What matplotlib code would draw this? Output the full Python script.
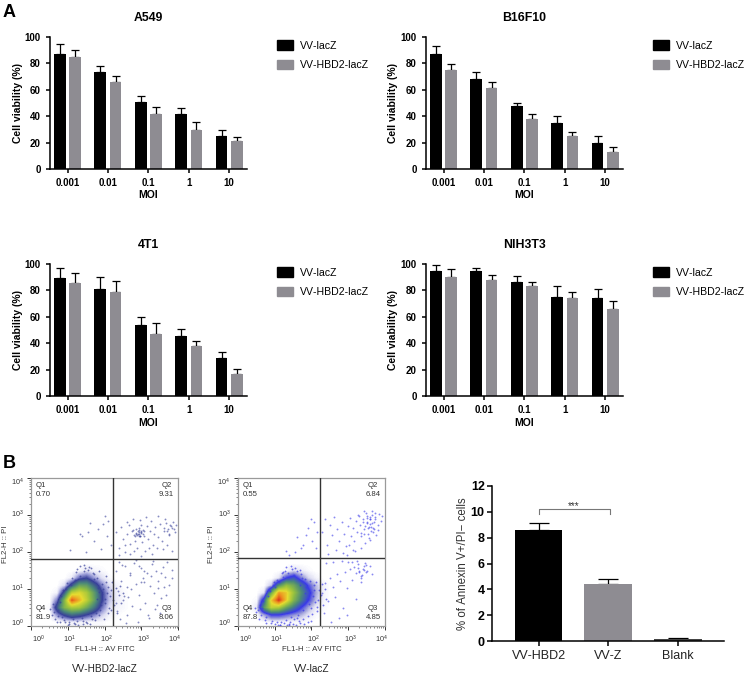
#!/usr/bin/env python3
"""Cell viability bars, annexin V flow plots and apoptosis summary"""

import matplotlib
matplotlib.use('Agg')
import matplotlib.pyplot as plt
from matplotlib.colors import LinearSegmentedColormap
from matplotlib.patches import Patch
import numpy as np

plt.rcParams['font.family'] = ['Liberation Sans', 'DejaVu Sans']
plt.rcParams['text.kerning_factor'] = 6

W, H = 747, 675

moi = ['0.001', '0.01', '0.1', '1', '10']
series_names = ['VV-lacZ', 'VV-HBD2-lacZ']

a549_lacz = [87.4, 73.5, 50.9, 41.3, 24.7]
a549_lacz_top = [94.7, 78.0, 55.4, 46.3, 29.2]
a549_hbd2 = [84.9, 66.0, 41.3, 29.2, 20.9]
a549_hbd2_top = [90.4, 70.5, 46.9, 35.8, 23.9]

b16_lacz = [87.2, 68.5, 47.9, 34.8, 19.9]
b16_lacz_top = [93.0, 73.5, 50.1, 39.8, 24.9]
b16_hbd2 = [74.8, 61.2, 38.0, 24.9, 12.8]
b16_hbd2_top = [79.8, 66.2, 41.3, 28.0, 16.4]

t1_lacz = [89.6, 80.8, 54.0, 45.2, 28.8]
t1_lacz_top = [96.7, 90.4, 59.8, 50.5, 33.6]
t1_hbd2 = [85.6, 79.0, 46.7, 37.9, 16.9]
t1_hbd2_top = [92.9, 87.1, 55.0, 41.9, 20.5]

nih_lacz = [94.7, 94.7, 86.6, 75.0, 74.5]
nih_lacz_top = [99.0, 97.0, 90.7, 83.3, 80.8]
nih_hbd2 = [90.4, 87.9, 83.3, 74.0, 65.9]
nih_hbd2_top = [96.2, 91.9, 86.1, 78.6, 72.2]

annexin_groups = ['VV-HBD2', 'VV-Z', 'Blank']
annexin_values = [8.6, 4.4, 0.15]
annexin_tops = [9.1, 4.8, 0.25]

# flow plots: density read per 0.2 decade cell, bottom row first, x 0-2.8, y 0-2.0
density_hbd2 = [
    [0, 0, 0, 0, .1, .2, .2, .1, .1, .1, 0, 0, 0, 0],
    [0, 0, 0, 1.2, 2.2, 3, 2.6, 2, 1.4, .7, .2, .1, 0, 0],
    [0, 0, .1, 2.6, 5, 6, 5.8, 4.6, 3.2, 1.6, .5, .2, .1, 0],
    [0, 0, 0, 1.4, 5, 9.5, 8, 6.4, 4.4, 2.2, .8, .3, .1, 0],
    [0, 0, 0, .2, 2.6, 6.4, 7, 6, 4.2, 2.2, .8, .3, .1, 0],
    [0, 0, 0, 0, .5, 2.6, 4.4, 4.2, 2.8, 1.4, .5, .2, 0, 0],
    [0, 0, 0, 0, 0, .3, 1.6, 2, 1.1, .5, .1, 0, 0, 0],
    [0, 0, 0, 0, 0, 0, .1, .4, .2, .1, 0, 0, 0, 0],
    [0, 0, 0, 0, 0, 0, 0, 0, 0, 0, 0, 0, 0, 0],
    [0, 0, 0, 0, 0, 0, 0, 0, 0, 0, 0, 0, 0, 0],
]
density_lacz = [
    [0, 0, 0, 0, .1, .1, .1, .1, .1, 0, 0, 0, 0, 0],
    [0, 0, 0, 1, 2, 2, 1.6, 1.2, .9, .4, .1, 0, 0, 0],
    [0, 0, .4, 4, 6.4, 6, 4.4, 3.2, 2, 1, .3, .1, 0, 0],
    [0, 0, .1, 2.6, 7.6, 10, 7.6, 5, 3.4, 2, .8, .2, 0, 0],
    [0, 0, 0, .4, 4.6, 8.4, 7.6, 5.6, 3.8, 2.4, 1, .2, 0, 0],
    [0, 0, 0, 0, .8, 3.8, 5.4, 4.6, 3.2, 1.8, .8, .2, 0, 0],
    [0, 0, 0, 0, 0, .4, 2, 2.6, 1.4, .6, .2, 0, 0, 0],
    [0, 0, 0, 0, 0, 0, .1, .5, .3, .1, 0, 0, 0, 0],
    [0, 0, 0, 0, 0, 0, 0, 0, 0, 0, 0, 0, 0, 0],
    [0, 0, 0, 0, 0, 0, 0, 0, 0, 0, 0, 0, 0, 0],
]

# events outside the dense population, read as log10 positions
hbd2_x = [1.05, 1.32, 1.38, 1.55, 1.7, 1.82, 1.96, 2.06, 2.1, 2.18, 1.48, 1.9, 1.6, 2.02,
          2.32, 2.38, 2.45, 2.5, 2.56, 2.6, 2.66, 2.7, 2.74, 2.78, 2.82, 2.85, 2.88, 2.9,
          2.92, 2.94, 2.96, 2.98, 3.0, 3.02, 3.05, 3.08, 3.1, 3.14, 3.18, 3.22, 3.26, 3.3,
          3.34, 3.38, 3.42, 3.46, 3.5, 3.55, 3.6, 3.65, 3.7, 3.74, 3.78, 3.82, 3.86, 3.9,
          2.4, 2.55, 2.7, 2.82, 2.95, 3.12, 3.28, 3.44, 3.58, 3.72, 2.62, 2.8, 3.0, 3.2,
          2.3, 2.36, 2.44, 2.5, 2.56, 2.62, 2.68, 2.74, 2.8, 2.86, 2.92, 2.98, 3.04, 3.1,
          3.16, 3.22, 3.28, 3.34, 3.4, 3.46, 3.52, 3.58, 3.64, 3.7, 3.76, 3.82, 2.34, 2.42,
          2.52, 2.6, 2.72, 2.84, 2.96, 3.06, 3.18, 3.3, 3.42, 3.54, 3.66, 2.9, 3.2, 3.5,
          2.48, 2.7, 3.0, 3.36, 3.62, 3.84, 2.38, 2.64, 2.94, 3.26, 2.3, 2.58, 3.08, 3.44,
          2.86, 2.9, 2.94, 2.98, 2.88, 2.92, 2.96, 3.0, 2.84, 2.93, 3.04, 2.76, 2.8, 3.08,
          3.6, 3.7, 3.8, 3.88, 3.94, 3.76, 3.66, 3.84]
hbd2_y = [2.05, 2.5, 2.42, 2.55, 2.3, 2.62, 2.75, 2.44, 2.85, 2.2, 2.0, 2.08, 2.78, 2.96,
          2.55, 2.12, 2.68, 2.35, 2.0, 2.48, 2.72, 2.22, 2.58, 2.9, 2.42, 2.62, 2.1, 2.5,
          2.66, 2.55, 2.42, 2.52, 2.74, 2.28, 2.6, 2.44, 2.04, 2.7, 2.36, 2.56, 2.84, 2.2,
          2.48, 2.68, 2.1, 2.4, 2.76, 2.3, 2.58, 2.9, 2.18, 2.46, 2.72, 2.02, 2.8, 2.55,
          1.92, 2.18, 1.95, 2.3, 2.86, 2.95, 1.94, 2.98, 2.08, 2.62, 2.8, 2.02, 1.9, 2.12,
          1.5, 0.95, 1.22, 0.7, 1.62, 1.05, 1.38, 0.55, 1.7, 1.14, 0.85, 1.56, 1.3, 0.62,
          1.44, 1.08, 1.68, 0.9, 1.5, 1.22, 0.75, 1.6, 1.32, 1.72, 1.1, 1.52, 0.4, 0.18,
          0.82, 0.3, 1.0, 1.78, 0.45, 1.18, 0.3, 1.76, 0.58, 1.42, 0.85, 0.12, 0.22, 0.36,
          1.66, 1.42, 1.18, 0.46, 1.05, 1.3, 1.74, 0.78, 1.62, 1.35, 0.62, 0.08, 1.48, 1.02,
          2.5, 2.56, 2.48, 2.58, 2.46, 2.6, 2.44, 2.54, 2.52, 2.42, 2.5, 2.6, 2.46, 2.56,
          2.66, 2.58, 2.7, 2.62, 2.74, 2.5, 2.78, 2.66]

lacz_x = [1.4, 1.62, 1.72, 1.85, 1.92, 2.02, 2.08, 2.16, 1.55, 1.98, 1.3, 1.78, 2.12,
          2.3, 2.36, 2.42, 2.5, 2.56, 2.62, 2.7, 2.76, 2.82, 2.88, 2.94, 3.0, 3.04, 3.08,
          3.12, 3.16, 3.2, 3.24, 3.28, 3.32, 3.36, 3.4, 3.44, 3.48, 3.5, 3.54, 3.58, 3.6,
          3.62, 3.66, 3.68, 3.7, 3.74, 3.76, 3.8, 3.84, 3.88, 3.92, 2.46, 2.66, 2.86, 3.02,
          3.18, 3.34, 3.46, 3.56, 3.64, 3.72, 3.8, 3.3, 3.42, 3.52, 3.6, 3.68, 3.14, 2.98,
          2.3, 2.38, 2.44, 2.5, 2.58, 2.64, 2.7, 2.78, 2.86, 2.92, 2.98, 3.04, 3.1, 3.16,
          3.22, 3.28, 3.34, 3.4, 3.46, 3.52, 3.58, 3.64, 2.34, 2.54, 2.74, 2.96, 3.2, 3.36,
          3.48, 3.3, 3.42, 3.1, 3.24, 2.4, 2.6, 2.82, 3.0,
          3.46, 3.5, 3.54, 3.58, 3.62, 3.44, 3.52, 3.56, 3.66, 3.7, 3.74, 3.6, 3.4, 3.34,
          3.26, 3.3, 3.38, 3.44, 3.48, 3.36]
lacz_y = [1.92, 2.4, 2.1, 2.46, 2.66, 2.3, 2.8, 2.55, 2.0, 2.9, 2.02, 2.18, 2.12,
          2.55, 2.9, 2.2, 2.72, 2.45, 2.95, 2.62, 2.3, 2.8, 2.5, 2.15, 2.7, 2.92, 2.42,
          2.65, 2.3, 2.85, 2.55, 3.0, 2.72, 2.42, 2.9, 2.62, 3.05, 2.78, 2.5, 2.88, 2.32,
          2.68, 3.0, 2.55, 2.82, 2.95, 2.45, 2.72, 3.02, 2.85, 2.98, 1.95, 2.05, 1.98, 2.2,
          2.02, 2.12, 2.25, 2.38, 3.1, 3.06, 2.6, 2.98, 3.1, 2.92, 2.75, 2.65, 2.05, 1.92,
          0.9, 1.15, 0.68, 1.3, 1.05, 0.78, 1.4, 1.22, 0.5, 1.45, 1.02, 1.55, 1.25, 1.6,
          1.42, 1.68, 1.35, 1.55, 1.7, 1.5, 1.62, 1.4, 0.35, 0.12, 0.22, 0.3, 0.72, 1.2,
          1.45, 1.5, 1.62, 1.72, 1.75, 1.7, 1.74, 1.76, 1.72,
          2.7, 2.82, 2.64, 2.9, 2.58, 2.5, 2.96, 2.68, 2.78, 2.62, 2.88, 2.94, 2.8, 2.52,
          1.58, 1.46, 1.38, 1.52, 1.64, 1.3]

# scattered events round the main population
hbd2_fringe_x = [0.62, 0.68, 0.72, 0.78, 0.84, 0.66, 0.74, 0.82, 0.9, 0.96, 1.02, 1.08, 1.14, 1.2,
                 1.26, 1.32, 1.38, 1.44, 1.5, 1.56, 1.62, 1.68, 1.74, 1.8, 1.86, 1.92, 1.98, 2.04,
                 2.1, 2.16, 2.0, 1.94, 1.88, 1.82, 1.76, 1.7, 2.22, 2.12, 2.06, 2.18, 1.66, 1.58,
                 1.52, 1.46, 1.4, 1.34, 1.28, 1.22, 1.16, 1.1, 1.04, 0.98, 0.92, 0.86, 0.8, 1.78,
                 1.9, 2.02, 2.14, 2.26, 2.3, 2.38, 2.44, 2.34, 2.5, 2.42, 1.72, 1.84, 1.96, 2.08,
                 0.52, 0.56, 0.6, 0.7, 1.0, 1.2, 1.4, 1.6, 1.24, 1.44, 1.64, 1.84, 2.04, 2.2]
hbd2_fringe_y = [0.38, 0.52, 0.28, 0.66, 0.24, 0.18, 0.44, 0.82, 0.16, 1.0, 0.12, 1.12, 0.2, 1.24,
                 0.14, 1.36, 0.22, 1.48, 0.1, 1.52, 0.26, 1.44, 0.16, 1.3, 0.3, 1.14, 0.2, 1.2,
                 0.34, 0.98, 0.62, 0.86, 0.42, 1.02, 0.36, 1.26, 0.7, 0.5, 0.88, 0.44, 0.18, 1.6,
                 0.08, 1.56, 0.06, 1.62, 0.04, 1.46, 0.08, 1.3, 0.06, 1.16, 0.1, 0.98, 0.1, 0.72,
                 0.56, 0.74, 0.82, 0.58, 1.02, 0.84, 0.62, 0.36, 0.9, 1.08, 1.4, 0.92, 1.0, 1.06,
                 0.46, 0.3, 0.6, 0.12, 0.03, 0.05, 0.14, 0.05, 1.54, 1.66, 1.58, 1.48, 1.36, 1.18]
lacz_fringe_x = [0.56, 0.6, 0.64, 0.7, 0.76, 0.82, 0.58, 0.66, 0.74, 0.88, 0.94, 1.0, 1.06, 1.12,
                 1.18, 1.24, 1.3, 1.36, 1.42, 1.48, 1.54, 1.6, 1.66, 1.72, 1.78, 1.84, 1.9, 1.96,
                 2.02, 2.08, 2.14, 2.2, 1.94, 1.88, 1.82, 1.76, 1.7, 1.64, 2.1, 2.04, 2.16, 1.56,
                 1.5, 1.44, 1.38, 1.32, 1.26, 1.2, 1.14, 1.08, 1.02, 0.96, 0.9, 0.84, 0.78, 2.26,
                 2.32, 2.4, 2.36, 2.28, 1.98, 2.06, 1.86, 1.74, 1.62, 1.52, 1.34, 1.16, 1.46, 1.28,
                 2.12, 2.18, 1.68, 1.92, 0.5, 0.46, 1.1, 1.4, 1.8, 2.0, 1.58, 1.22, 0.98, 1.7]
lacz_fringe_y = [0.42, 0.56, 0.3, 0.68, 0.24, 0.8, 0.2, 0.5, 0.16, 0.94, 0.14, 1.06, 0.12, 1.18,
                 0.1, 1.32, 0.16, 1.44, 0.12, 1.54, 0.2, 1.48, 0.14, 1.4, 0.18, 1.28, 0.26, 1.22,
                 0.32, 1.12, 0.4, 0.96, 0.6, 0.74, 0.9, 0.42, 1.1, 0.3, 0.66, 0.82, 0.52, 1.58,
                 0.06, 1.62, 0.05, 1.6, 0.07, 1.42, 0.04, 1.24, 0.06, 1.1, 0.08, 0.98, 0.08, 0.84,
                 0.58, 0.72, 1.0, 1.14, 0.5, 0.98, 1.06, 1.3, 0.22, 1.38, 0.02, 0.03, 0.24, 1.5,
                 1.2, 0.7, 0.08, 0.12, 0.38, 0.5, 0.02, 0.02, 0.06, 0.14, 0.03, 1.46, 1.2, 1.52]

BAR_BLACK = '#000000'
BAR_GRAY = '#8e8c92'


def px_axes(left, top, right, bottom):
    # axes box given in reference pixels
    return plt.figure(1).add_axes([left / W, 1 - bottom / H, (right - left) / W, (bottom - top) / H])


def viability_panel(box, title, lacz, lacz_top, hbd2, hbd2_top):
    ax = px_axes(*box)
    x = np.arange(len(moi))
    for off, vals, tops, color in [(-0.19, lacz, lacz_top, BAR_BLACK), (0.19, hbd2, hbd2_top, BAR_GRAY)]:
        vals = np.array(vals)
        err = np.array(tops) - vals
        ax.bar(x + off, vals, 0.29, color=color, zorder=2)
        ax.errorbar(x + off, vals, yerr=[np.zeros(len(vals)), err], fmt='none', ecolor='black',
                    elinewidth=0.9, capsize=2.6, capthick=0.9, zorder=1)
    ax.set_xlim(-0.446, 4.44)
    ax.set_ylim(0, 100)
    ax.set_yticks(range(0, 101, 20))
    ax.set_xticks(x)
    ax.set_xticklabels(moi)
    ax.tick_params(axis='both', labelsize=7, width=1.1, length=3.2, pad=3)
    for lab in ax.get_xticklabels() + ax.get_yticklabels():
        lab.set_fontweight('bold')
    ax.spines[['top', 'right']].set_visible(False)
    ax.spines[['left', 'bottom']].set_linewidth(1.1)
    ax.set_title(title, fontsize=8.8, fontweight='bold', pad=11.5)
    ax.set_xlabel('MOI', fontsize=7.5, fontweight='bold', va='center')
    ax.xaxis.set_label_coords(0.5, -26.5 / 132)
    ax.set_ylabel('Cell viability (%)', fontsize=7.5, fontweight='bold', va='center')
    ax.yaxis.set_label_coords(-32 / 197.5, 0.5)
    handles = [Patch(color=BAR_BLACK), Patch(color=BAR_GRAY)]
    ax.legend(handles, series_names, loc='upper left', bbox_to_anchor=(1.15, 0.975), frameon=False,
              fontsize=7.6, handlelength=1.52, handleheight=0.98, handletextpad=0.69,
              labelspacing=0.86, borderpad=0, borderaxespad=0)
    return ax


def flow_panel(box, density, xs, ys, fringe_x, fringe_y, gate_x, gate_y, quad_values, name, low_color):
    ax = px_axes(*box)
    cmap = LinearSegmentedColormap.from_list('flow', [
        (0.0, '#ffffff'), (0.05, '#dedef3'), (0.11, '#9a9cd8'), (0.2, low_color), (0.36, '#4c8a78'),
        (0.54, '#93c040'), (0.72, '#e6dc30'), (0.87, '#ee8a20'), (1.0, '#d8301c')])
    ax.imshow(np.array(density), origin='lower', extent=(0, 2.8, 0, 2.0), cmap=cmap, vmin=0, vmax=10,
              interpolation='bilinear', aspect='auto', zorder=1)
    ax.scatter(xs, ys, s=1.8, color=low_color, alpha=0.6, linewidths=0, zorder=2)
    ax.scatter(fringe_x, fringe_y, s=1.8, color=low_color, alpha=0.7, linewidths=0, zorder=2)
    ax.axvline(gate_x, color='#333333', lw=1.0, zorder=3)
    ax.axhline(gate_y, color='#333333', lw=1.0, zorder=3)
    ax.set_xlim(0, 4)
    ax.set_ylim(0, 4)
    ax.set_xticks(range(5))
    ax.set_yticks(range(5))
    minor = [d + np.log10(m) for d in range(4) for m in range(2, 10)]
    ax.set_xticks(minor, minor=True)
    ax.set_yticks(minor, minor=True)
    ax.set_xticklabels([])
    ax.set_yticklabels([])
    ax.tick_params(which='major', length=3, width=0.7, color='#333333')
    ax.tick_params(which='minor', length=1.5, width=0.5, color='#555555')
    for sp in ax.spines.values():
        sp.set_color('#9a9a9a')
        sp.set_linewidth(0.9)
    tick_text = dict(fontsize=5.2, color='#333333')
    for i, pos in enumerate([0.2, 1.05, 2.05, 3.05, 3.9]):
        ax.text(pos, -0.2, r'$\mathregular{10^{%d}}$' % i, ha='center', va='top', **tick_text)
    for i, pos in enumerate([0.07, 1.02, 2.02, 3.02, 3.87]):
        ax.text(-0.2, pos, r'$\mathregular{10^{%d}}$' % i, ha='right', va='center', **tick_text)
    quad = dict(fontsize=5.6, color='#333333', va='center', linespacing=1.35)
    ax.text(0.13, 3.68, 'Q1\n' + quad_values[0], ha='left', **quad)
    ax.text(3.68, 3.68, 'Q2\n' + quad_values[1], ha='center', **quad)
    ax.text(3.68, 0.36, 'Q3\n' + quad_values[2], ha='center', **quad)
    ax.text(0.13, 0.36, 'Q4\n' + quad_values[3], ha='left', **quad)
    ax.set_xlabel('FL1-H :: AV FITC', fontsize=5.6, color='#333333', va='center')
    ax.xaxis.set_label_coords(0.5, -23.5 / 148)
    ax.set_ylabel('FL2-H :: PI', fontsize=5.6, color='#333333', va='center')
    ax.yaxis.set_label_coords(-26 / 147.3, 0.55)
    fig.text((box[0] + box[2]) / 2 / W, 1 - 669 / H, name, fontsize=7.2, color='#222222',
             ha='center', va='center')
    return ax


fig = plt.figure(1, figsize=(W / 100, H / 100), dpi=100, facecolor='white')

viability_panel((49.5, 37, 247, 169), 'A549', a549_lacz, a549_lacz_top, a549_hbd2, a549_hbd2_top)
viability_panel((425.5, 37, 623, 169), 'B16F10', b16_lacz, b16_lacz_top, b16_hbd2, b16_hbd2_top)
viability_panel((49.5, 264, 247, 396), '4T1', t1_lacz, t1_lacz_top, t1_hbd2, t1_hbd2_top)
viability_panel((425.5, 264, 623, 396), 'NIH3T3', nih_lacz, nih_lacz_top, nih_hbd2, nih_hbd2_top)

flow_panel((31, 478, 178.3, 626), density_hbd2, hbd2_x, hbd2_y, hbd2_fringe_x, hbd2_fringe_y, 2.235, 1.80,
           ['0.70', '9.31', '8.06', '81.9'], 'VV-HBD2-lacZ', '#38409a')
flow_panel((237.7, 478, 385, 626), density_lacz, lacz_x, lacz_y, lacz_fringe_x, lacz_fringe_y, 2.24, 1.83,
           ['0.55', '6.84', '4.85', '87.8'], 'VV-lacZ', '#3a3ae8')

# annexin summary bars
ax = px_axes(492.3, 485.7, 724, 641.3)
pos = np.arange(len(annexin_groups))
vals = np.array(annexin_values)
ax.bar(pos, vals, 0.684, color=[BAR_BLACK, BAR_GRAY, '#444444'], zorder=2)
ax.errorbar(pos, vals, yerr=[np.zeros(3), np.array(annexin_tops) - vals], fmt='none', ecolor='black',
            elinewidth=0.9, capsize=7.5, capthick=0.9, zorder=1)
ax.set_xlim(-0.664, 2.665)
ax.set_ylim(0, 12)
ax.set_yticks(range(0, 13, 2))
ax.set_xticks(pos)
ax.set_xticklabels(annexin_groups, fontsize=9, color='#222222')
ax.tick_params(axis='y', labelsize=9, width=1.1, length=3.5, pad=2)
ax.tick_params(axis='x', width=1.1, length=3.5, pad=3)
for lab in ax.get_yticklabels():
    lab.set_fontweight('bold')
ax.spines[['top', 'right']].set_visible(False)
ax.spines[['left', 'bottom']].set_linewidth(1.1)
ax.set_ylabel('% of Annexin V+/PI\u2212 cells', fontsize=8.3, color='#333333', va='center')
ax.yaxis.set_label_coords(-29.6 / 231.7, 0.5)
ax.plot([0, 0, 1.02, 1.02], [9.79, 10.18, 10.18, 9.79], color='#777777', lw=0.8, clip_on=False)
ax.text(0.51, 10.05, '***', fontsize=7, ha='center', va='bottom', color='#333333')

fig.text(2.5 / W, 1 - 17 / H, 'A', fontsize=13, fontweight='bold', ha='left', va='baseline')
fig.text(2.5 / W, 1 - 468 / H, 'B', fontsize=13, fontweight='bold', ha='left', va='baseline')

fig.savefig('out.png', dpi=100)
